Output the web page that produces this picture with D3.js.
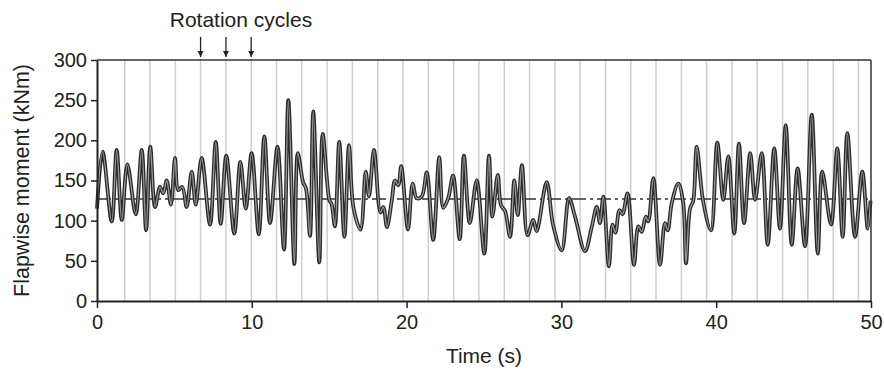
<!DOCTYPE html>
<html>
<head>
<meta charset="utf-8">
<script src="https://cdn.jsdelivr.net/npm/d3@7"></script>
<style>
  html, body { margin: 0; padding: 0; background: #fff; }
  svg { display: block; font-family: "Liberation Sans", Arial, sans-serif; }
</style>
</head>
<body>
<svg id="chart" width="884" height="370"></svg>
<script>
// ---- Data ----
const timeS = [
  0.00, 0.36, 0.95, 1.27, 1.60, 1.96, 2.50, 2.89, 3.17, 3.44, 3.75, 4.07, 4.28, 4.50, 4.78,
  5.04, 5.25, 5.51, 5.79, 6.12, 6.38, 6.76, 7.30, 7.67, 7.99, 8.35, 8.87, 9.26, 9.61, 9.99,
  10.45, 10.81, 11.18, 11.66, 12.08, 12.36, 12.75, 12.97, 13.31, 13.50, 13.76, 13.97, 14.36,
  14.58, 15.02, 15.15, 15.37, 15.65, 15.98, 16.28, 16.56, 17.02, 17.36, 17.57, 17.89, 18.31,
  18.50, 18.73, 19.04, 19.25, 19.46, 19.65, 20.09, 20.39, 20.65, 20.98, 21.30, 21.72, 22.11,
  22.37, 22.69, 23.00, 23.43, 23.70, 24.08, 24.53, 25.02, 25.32, 25.54, 25.89, 26.10, 26.36,
  26.68, 26.96, 27.18, 27.45, 27.81, 28.18, 28.40, 29.05, 29.46, 30.02, 30.49, 30.88, 31.52,
  31.96, 32.28, 32.49, 32.71, 33.07, 33.30, 33.49, 33.75, 33.95, 34.27, 34.69, 34.97, 35.19,
  35.45, 35.61, 35.94, 36.37, 36.69, 36.87, 37.13, 37.55, 37.87, 38.05, 38.31, 38.52, 38.74,
  39.15, 39.66, 40.07, 40.46, 40.78, 41.17, 41.47, 41.80, 42.20, 42.51, 42.94, 43.33, 43.75,
  44.12, 44.49, 44.88, 45.26, 45.74, 46.17, 46.56, 46.85, 47.42, 47.82, 48.17, 48.47, 48.97,
  49.44, 49.79, 49.97
];
const momentKNm = [
  115, 186, 99, 188, 101, 170, 108, 188, 88, 192, 117, 142, 134, 150, 120,
  178, 138, 142, 117, 161, 120, 178, 95, 198, 96, 181, 84, 173, 115, 184,
  83, 205, 97, 192, 64, 250, 46, 184, 148, 140, 81, 236, 48,
  208, 125, 121, 93, 198, 80, 194, 117, 89, 161, 130, 188, 110,
  117, 92, 125, 150, 144, 168, 89, 146, 128, 130, 160, 76, 179,
  116, 128, 156, 77, 181, 97, 150, 59, 181, 105, 157, 119, 112,
  80, 150, 107, 169, 82, 101, 87, 148, 95, 63, 128, 105, 62,
  92, 117, 97, 130, 43, 95, 85, 113, 108, 134, 45, 93, 86,
  105, 99, 153, 45, 97, 88, 122, 146, 122, 47, 115, 125, 192,
  125, 88, 197, 126, 180, 84, 196, 97, 184, 126, 184, 70, 190,
  90, 219, 70, 165, 68, 232, 59, 161, 95, 190, 80, 209, 80,
  161, 90, 125
];
const meanMoment = 127;
const rotationTimes = [
  1.79, 3.42, 5.06, 6.69, 8.33, 9.96, 11.60, 13.23, 14.87, 16.50,
  18.14, 19.77, 21.40, 23.04, 24.67, 26.31, 27.94, 29.58, 31.21, 32.85,
  34.48, 36.11, 37.75, 39.38, 41.02, 42.65, 44.29, 45.92, 47.56, 49.19
];
const arrowTimes = [6.69, 8.33, 9.96];
const xTicks = [0, 10, 20, 30, 40, 50];
const yTicks = [0, 50, 100, 150, 200, 250, 300];
const xTitle = "Time (s)";
const yTitle = "Flapwise moment (kNm)";
const annotation = "Rotation cycles";

// ---- Layout ----
const W = 884, H = 370;
const margin = { left: 97, right: 13, top: 60, bottom: 69 };
const iw = W - margin.left - margin.right;
const ih = H - margin.top - margin.bottom;

const svg = d3.select("#chart");
const g = svg.append("g").attr("transform", `translate(${margin.left},${margin.top})`);

const x = d3.scaleLinear().domain([0, 50]).range([0, iw]);
const y = d3.scaleLinear().domain([0, 300]).range([ih, 0]);

// rotation cycle grid lines
g.selectAll("line.rot").data(rotationTimes).join("line")
  .attr("class", "rot")
  .attr("x1", d => x(d)).attr("x2", d => x(d))
  .attr("y1", 0).attr("y2", ih)
  .attr("stroke", "#cfcfcf").attr("stroke-width", 1.5);

// mean dashed line
g.append("line")
  .attr("x1", 0).attr("x2", iw)
  .attr("y1", y(meanMoment)).attr("y2", y(meanMoment))
  .attr("stroke", "#333").attr("stroke-width", 1.6)
  .attr("stroke-dasharray", "14,4,3,4");

// signal
const series = timeS.map((t, i) => ({ t, v: momentKNm[i] }));
const line = d3.line().x(d => x(d.t)).y(d => y(d.v)).curve(d3.curveCatmullRom.alpha(0.5));
g.append("path").datum(series)
  .attr("d", line).attr("fill", "none")
  .attr("stroke", "#2a2a2a").attr("stroke-width", 3.8)
  .attr("stroke-linejoin", "round");
g.append("path").datum(series)
  .attr("d", line).attr("fill", "none")
  .attr("stroke", "#9a9a9a").attr("stroke-width", 1.3)
  .attr("stroke-linejoin", "round");

// frame: top and right borders
g.append("line").attr("x1", 0).attr("x2", iw).attr("y1", 0).attr("y2", 0)
  .attr("stroke", "#333").attr("stroke-width", 1.5);
g.append("line").attr("x1", iw).attr("x2", iw).attr("y1", 0).attr("y2", ih)
  .attr("stroke", "#333").attr("stroke-width", 1.5);

// axes
const xAxis = g.append("g").attr("transform", `translate(0,${ih})`)
  .call(d3.axisBottom(x).tickValues(xTicks).tickSize(7).tickSizeOuter(0).tickPadding(7));
const yAxis = g.append("g")
  .call(d3.axisLeft(y).tickValues(yTicks).tickSize(6).tickSizeOuter(0).tickPadding(4));
[xAxis, yAxis].forEach(a => {
  a.select(".domain").attr("stroke", "#222").attr("stroke-width", 2);
  a.selectAll(".tick line").attr("stroke", "#222").attr("stroke-width", 1.5);
  a.selectAll(".tick text").attr("fill", "#222")
    .style("font-family", "'Liberation Sans', Arial, sans-serif").style("font-size", "20px");
});

// titles
svg.append("text")
  .attr("x", margin.left + iw / 2).attr("y", 363)
  .attr("text-anchor", "middle").attr("fill", "#222")
  .style("font-size", "21px").text(xTitle);
svg.append("text")
  .attr("transform", `translate(29,${margin.top + ih / 2}) rotate(-90)`)
  .attr("text-anchor", "middle").attr("fill", "#222")
  .style("font-size", "21.5px").text(yTitle);

// annotation + arrows
svg.append("text")
  .attr("x", x(8.33) + margin.left + 15).attr("y", 27)
  .attr("text-anchor", "middle").attr("fill", "#222")
  .style("font-size", "21px").text(annotation);
const defs = svg.append("defs");
defs.append("marker").attr("id", "arrowhead")
  .attr("viewBox", "0 0 10 10").attr("refX", 10).attr("refY", 5)
  .attr("markerWidth", 6).attr("markerHeight", 7).attr("markerUnits", "userSpaceOnUse")
  .attr("orient", "auto")
  .append("path").attr("d", "M0,0 L10,5 L0,10 Z").attr("fill", "#222");
svg.selectAll("line.arrow").data(arrowTimes).join("line")
  .attr("class", "arrow")
  .attr("x1", d => margin.left + x(d)).attr("x2", d => margin.left + x(d))
  .attr("y1", 37).attr("y2", 57)
  .attr("stroke", "#222").attr("stroke-width", 1.3)
  .attr("marker-end", "url(#arrowhead)");
</script>
</body>
</html>
